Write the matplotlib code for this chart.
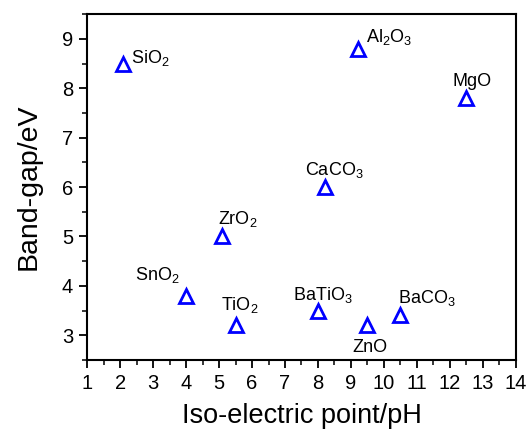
import matplotlib
matplotlib.use("Agg")
import matplotlib.pyplot as plt
from matplotlib.ticker import MultipleLocator

plt.rcParams['font.family'] = ['Liberation Sans', 'DejaVu Sans']
plt.rcParams['mathtext.fontset'] = 'custom'
plt.rcParams['mathtext.rm'] = 'Liberation Sans'
plt.rcParams['mathtext.it'] = 'Liberation Sans'
plt.rcParams['mathtext.default'] = 'regular'

names = [r'SiO$_2$', r'Al$_2$O$_3$', 'MgO', r'CaCO$_3$', r'ZrO$_2$',
         r'SnO$_2$', r'TiO$_2$', r'BaTiO$_3$', 'ZnO', r'BaCO$_3$']
iep = [2.1, 9.2, 12.5, 8.2, 5.1, 4.0, 5.5, 8.0, 9.5, 10.5]
gap = [8.5, 8.8, 7.8, 6.0, 5.0, 3.8, 3.2, 3.5, 3.2, 3.4]
xticks = list(range(1, 15))
yticks = [3, 4, 5, 6, 7, 8, 9]

# label offsets in pixels (dx, dy) and horizontal alignment
offsets = [(8, 6, 'left'), (8, 12, 'left'), (6, 17, 'center'), (10, 17, 'center'),
           (15, 17, 'center'), (-29, 21, 'center'), (4, 20, 'center'),
           (5, 16, 'center'), (2, -22, 'center'), (26, 17, 'center')]

fig = plt.figure(figsize=(5.28, 4.29), dpi=100)
ax = fig.add_axes([0.165, 0.161, 0.812, 0.806])
ax.plot(iep, gap, linestyle='none', marker='^', ms=10.5, mfc='none',
        mec='#0000ff', mew=2)
for n, x, y, (dx, dy, ha) in zip(names, iep, gap, offsets):
    ax.annotate(n, (x, y), xytext=(dx, dy), textcoords='offset pixels',
                ha=ha, va='center', fontsize=13)

ax.set_xlim(1, 14)
ax.set_ylim(2.5, 9.5)
ax.set_xticks(xticks)
ax.set_yticks(yticks)
ax.xaxis.set_minor_locator(MultipleLocator(0.5))
ax.yaxis.set_minor_locator(MultipleLocator(0.5))
ax.tick_params(axis='both', which='major', direction='out', length=6, width=1.3,
               labelsize=14.5, pad=4)
ax.tick_params(axis='both', which='minor', direction='out', length=3.5, width=1.1)
for s in ax.spines.values():
    s.set_linewidth(1.5)
ax.set_xlabel('Iso-electric point/pH', fontsize=19.5, labelpad=7)
ax.set_ylabel('Band-gap/eV', fontsize=20.5, labelpad=15)
fig.savefig('out.png', dpi=100)
